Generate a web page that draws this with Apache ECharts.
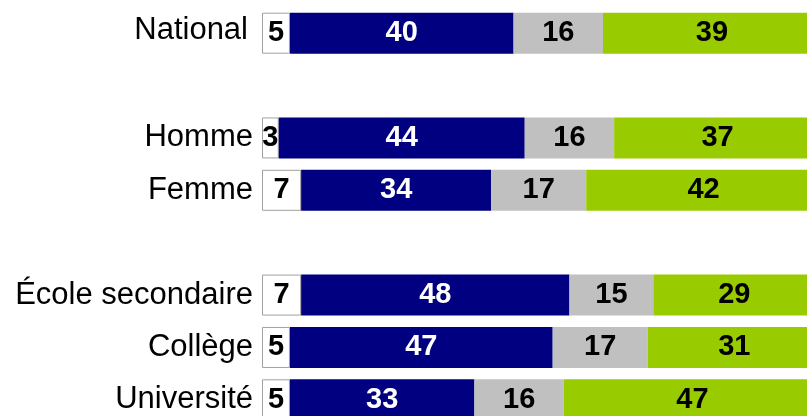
<!DOCTYPE html>
<html>
<head>
<meta charset="utf-8">
<script src="https://cdn.jsdelivr.net/npm/echarts@6/dist/echarts.min.js"></script>
<style>
  html, body { margin: 0; padding: 0; background: #fff; overflow: hidden; }
  /* chart area runs past the window edge, like the cropped original */
  #main { width: 840px; height: 440px; }
</style>
</head>
<body>
<div id="main"></div>
<script>
// rows, blanks are spacer rows
var categories = ['National', ' ', 'Homme', 'Femme', '  ', 'École secondaire', 'Collège', 'Université'];
var nspValues = [5, null, 3, 7, null, 7, 5, 5];
var blueValues = [40, null, 44, 34, null, 48, 47, 33];
var greyValues = [16, null, 16, 17, null, 15, 17, 16];
var greenValues = [39, null, 37, 42, null, 29, 31, 47];

var font = 'Liberation Sans, Arial, sans-serif';

function seg(name, data, color, txtColor, border) {
  return {
    name: name,
    type: 'bar',
    stack: 'total',
    barWidth: 41,
    data: data,
    itemStyle: {
      color: color,
      borderColor: border || color,
      borderWidth: border ? 1 : 0
    },
    label: {
      show: true,
      position: 'inside',
      color: txtColor,
      fontFamily: font,
      fontWeight: 'bold',
      fontSize: 29,
      formatter: function (p) { return p.value == null ? '' : p.value; }
    }
  };
}

var chart = echarts.init(document.getElementById('main'));
chart.setOption({
  animation: false,
  grid: { left: 262, top: 7, width: 559, height: 419 },
  xAxis: { type: 'value', min: 0, max: 100, show: false },
  yAxis: {
    type: 'category',
    inverse: true,
    data: categories,
    axisLine: { show: false },
    axisTick: { show: false },
    axisLabel: {
      color: '#000', fontSize: 31, fontFamily: font, margin: 9,
      // the "National" label sits a bit higher in the original
      formatter: function (v, i) { return i === 0 ? '{up|' + v + '}' : v; },
      rich: {
        up: { color: '#000', fontSize: 31, fontFamily: font, padding: [0, 5, 6, 0] }
      }
    }
  },
  series: [
    seg('nsp', nspValues, '#ffffff', '#000', '#a0a0a0'),
    seg('a', blueValues, '#000080', '#fff'),
    seg('b', greyValues, '#c0c0c0', '#000'),
    seg('c', greenValues, '#99cc00', '#000')
  ]
});
</script>
</body>
</html>
